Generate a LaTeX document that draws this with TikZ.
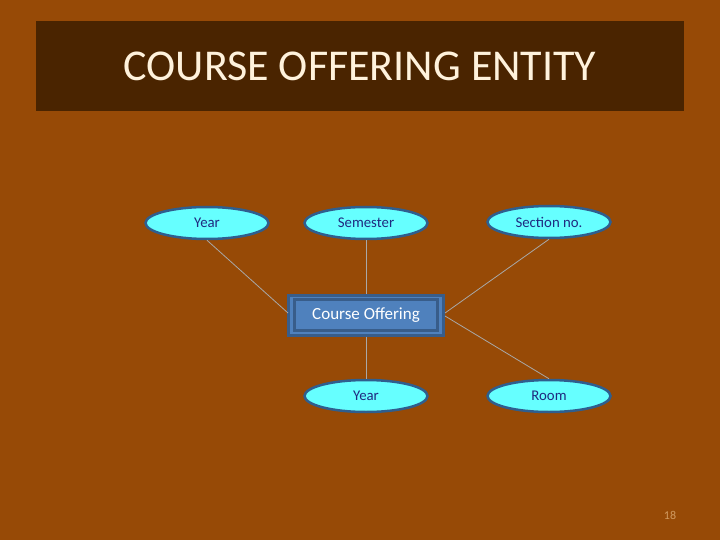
\documentclass[tikz,border=0pt]{standalone}
\usepackage{fontspec}
\setmainfont{Carlito}
\usetikzlibrary{shapes.geometric}
\definecolor{bgbrown}{HTML}{974A06}
\definecolor{titlebrown}{HTML}{4A2400}
\definecolor{titletext}{HTML}{FFF2DC}
\definecolor{attrfill}{HTML}{66FFFF}
\definecolor{attrborder}{HTML}{2F5E8E}
\definecolor{attrtext}{HTML}{1F2A80}
\definecolor{entfill}{HTML}{4F81BD}
\definecolor{entborder}{HTML}{385D8A}
\definecolor{linkgray}{HTML}{A8A8A8}
\definecolor{pagenum}{HTML}{D09A60}
\tikzset{
  attr/.style={ellipse, fill=attrfill, draw=attrborder, line width=2.5pt,
    minimum width=123pt, minimum height=32pt, inner sep=0pt,
    font=\fontsize{14.8}{17}\selectfont, text=attrtext},
  entity/.style={rectangle, fill=entfill, draw=entborder, line width=3pt,
    minimum width=155pt, minimum height=40pt, inner sep=0pt},
  entinner/.style={rectangle, draw=entborder, line width=2.5pt,
    minimum width=143pt, minimum height=31pt, inner sep=0pt,
    font=\fontsize{17}{20}\selectfont, text=white},
  link/.style={draw=linkgray, line width=0.8pt}
}
\begin{document}
\begin{tikzpicture}[x=1pt,y=-1pt]
\useasboundingbox (0,0) rectangle (720,540);
\fill[bgbrown] (0,0) rectangle (720,540);
\node[fill=titlebrown, minimum width=648pt, minimum height=90pt, inner sep=0pt,
  text=titletext, font=\fontsize{44}{52}\selectfont] (title) at (360,66) {COURSE OFFERING ENTITY};
\node[attr] (year1) at (207,223) {Year};
\node[attr] (sem) at (366,223) {Semester};
\node[attr] (sec) at (549,222) {Section no.};
\node[attr] (year2) at (366,396) {Year};
\node[attr] (room) at (549,396) {Room};
\node[entity] (co) at (366,315) {};
\node[entinner] (coin) at (366,315) {Course Offering};
\coordinate (cl) at (288,313);
\coordinate (cr) at (445,313);
\coordinate (cr2) at (445,316);
\draw[link] (year1.south) -- (cl);
\draw[link] (sem.south) -- (co.north);
\draw[link] (sec.south) -- (cr);
\draw[link] (cr2) -- (room.north);
\draw[link] (co.south) -- (year2.north);
\node[text=pagenum, font=\fontsize{12}{14}\selectfont] (num) at (670,515) {18};
\end{tikzpicture}
\end{document}
